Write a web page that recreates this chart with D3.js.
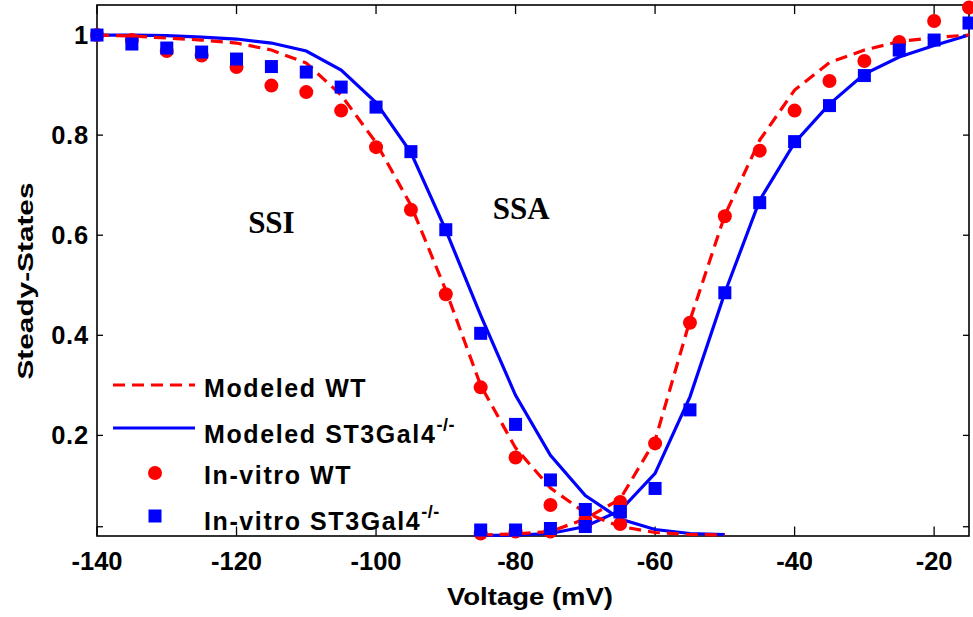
<!DOCTYPE html>
<html>
<head>
<meta charset="utf-8">
<script src="https://cdn.jsdelivr.net/npm/d3@7"></script>
<style>
  html, body { margin: 0; padding: 0; background: #fff; }
  svg { display: block; }
  text { font-family: "Liberation Sans", Arial, sans-serif; font-weight: bold; fill: #000; }
</style>
</head>
<body>
<svg id="chart" width="973" height="617"></svg>
<script>
// Holding potentials (mV)
const ssiVolt = [-140, -135, -130, -125, -120, -115, -110, -105, -100, -95, -90, -85, -80, -75, -70, -65, -60, -55, -50];
const ssaVolt = [-85, -80, -75, -70, -65, -60, -55, -50, -45, -40, -35, -30, -25, -20, -15];
const ssiDataVolt = [-140, -135, -130, -125, -120, -115, -110, -105, -100, -95, -90, -85, -80, -75, -70, -65];

// Modeled steady-state curves
const modelWtSSI = [1.0, 0.998, 0.994, 0.99, 0.984, 0.97, 0.944, 0.88, 0.785, 0.66, 0.49, 0.3, 0.175, 0.095, 0.045, 0.018, 0.006, 0.002, 0.001];
const modelKoSSI = [1.0, 1.0, 0.999, 0.996, 0.992, 0.984, 0.968, 0.93, 0.865, 0.765, 0.61, 0.44, 0.28, 0.16, 0.08, 0.033, 0.012, 0.004, 0.002];
const modelWtSSA = [0.001, 0.003, 0.008, 0.033, 0.073, 0.19, 0.43, 0.64, 0.79, 0.89, 0.945, 0.97, 0.987, 0.995, 1.0];
const modelKoSSA = [0.0, 0.001, 0.004, 0.018, 0.05, 0.124, 0.277, 0.485, 0.67, 0.785, 0.862, 0.922, 0.956, 0.979, 1.0];

// In-vitro measurements
const vitroWtSSI = [1.0, 0.99, 0.968, 0.959, 0.936, 0.899, 0.886, 0.849, 0.776, 0.651, 0.482, 0.296, 0.156, 0.061, 0.031, 0.023];
const vitroKoSSI = [1.0, 0.982, 0.974, 0.966, 0.952, 0.937, 0.926, 0.896, 0.856, 0.767, 0.611, 0.404, 0.222, 0.111, 0.052, 0.047];
const vitroWtSSA = [0.004, 0.008, 0.008, 0.022, 0.067, 0.184, 0.425, 0.638, 0.769, 0.849, 0.908, 0.948, 0.986, 1.028, 1.055];
const vitroKoSSA = [0.011, 0.011, 0.014, 0.018, 0.048, 0.094, 0.251, 0.485, 0.665, 0.787, 0.859, 0.919, 0.970, 0.990, 1.024];

// Axis ticks
const xTicks = [-140, -120, -100, -80, -60, -40, -20];
const yTicks = [0.2, 0.4, 0.6, 0.8, 1];
const yTickLabels = ["0.2", "0.4", "0.6", "0.8", "1"];
const yMinorTicks = [0.0175];

const legendLabels = ["Modeled WT", "Modeled ST3Gal4", "In-vitro WT", "In-vitro ST3Gal4"];
const RED = "#ff0000", BLUE = "#0000ff";

const svg = d3.select("#chart");
const x = d3.scaleLinear().domain([-140, -15]).range([97, 969]);
const y = d3.scaleLinear().domain([0, 1.06]).range([535.5, 5]);

const line = d3.line().x(d => x(d[0])).y(d => y(d[1]));
const zip = (a, b) => a.map((v, i) => [v, b[i]]);

// Frame
const [x0, x1] = x.range();
const [yb, yt] = y.range();
svg.append("rect").attr("x", x0).attr("y", yt).attr("width", x1 - x0).attr("height", yb - yt + 0.5)
  .attr("fill", "none").attr("stroke", "#000").attr("stroke-width", 1.6);

// Ticks (inward on all four sides)
const tickG = svg.append("g").attr("stroke", "#000").attr("stroke-width", 1.3);
xTicks.forEach(t => {
  tickG.append("line").attr("x1", x(t)).attr("x2", x(t)).attr("y1", yb).attr("y2", yb - 9);
  tickG.append("line").attr("x1", x(t)).attr("x2", x(t)).attr("y1", yt).attr("y2", yt + 9);
});
yTicks.concat(yMinorTicks).forEach(t => {
  tickG.append("line").attr("x1", x0).attr("x2", x0 + 6).attr("y1", y(t)).attr("y2", y(t));
  tickG.append("line").attr("x1", x1).attr("x2", x1 - 6).attr("y1", y(t)).attr("y2", y(t));
});

// Tick labels
svg.append("g").selectAll("text").data(xTicks).join("text")
  .attr("x", d => x(d)).attr("y", 570).attr("text-anchor", "middle")
  .attr("font-size", 25.5).text(d => String(d));
svg.append("g").selectAll("text").data(yTicks).join("text")
  .attr("x", 89).attr("y", d => y(d) + 9).attr("text-anchor", "end")
  .attr("font-size", 25.5).attr("letter-spacing", 0.8).text((d, i) => yTickLabels[i]);

// Axis titles
svg.append("text").attr("x", 530).attr("y", 605).attr("text-anchor", "middle")
  .attr("font-size", 24.5).attr("textLength", 166).attr("lengthAdjust", "spacingAndGlyphs")
  .text("Voltage (mV)");
svg.append("text").attr("transform", "translate(33,281) rotate(-90)").attr("text-anchor", "middle")
  .attr("font-size", 22.5).attr("textLength", 197).attr("lengthAdjust", "spacingAndGlyphs")
  .text("Steady-States");

// Region labels
const serif = '"Liberation Serif", "Times New Roman", serif';
svg.append("text").attr("x", x(-115)).attr("y", y(0.604)).attr("text-anchor", "middle")
  .style("font-family", serif).attr("font-size", 31).text("SSI");
svg.append("text").attr("x", x(-79.2)).attr("y", y(0.632)).attr("text-anchor", "middle")
  .style("font-family", serif).attr("font-size", 31).text("SSA");

// Model curves
const curves = svg.append("g").attr("fill", "none").attr("stroke-width", 3.2);
curves.append("path").datum(zip(ssiVolt, modelKoSSI)).attr("d", line).attr("stroke", BLUE);
curves.append("path").datum(zip(ssaVolt, modelKoSSA)).attr("d", line).attr("stroke", BLUE);
curves.append("path").datum(zip(ssiVolt, modelWtSSI)).attr("d", line).attr("stroke", RED).attr("stroke-dasharray", "12,7");
curves.append("path").datum(zip(ssaVolt, modelWtSSA)).attr("d", line).attr("stroke", RED).attr("stroke-dasharray", "12,7");

// In-vitro markers
const circ = svg.append("g").attr("fill", RED);
zip(ssiDataVolt, vitroWtSSI).concat(zip(ssaVolt, vitroWtSSA)).forEach(d => {
  circ.append("circle").attr("cx", x(d[0])).attr("cy", y(d[1])).attr("r", 7);
});
const sq = svg.append("g").attr("fill", BLUE);
const S = 13;
zip(ssiDataVolt, vitroKoSSI).concat(zip(ssaVolt, vitroKoSSA)).forEach(d => {
  sq.append("rect").attr("x", x(d[0]) - S / 2).attr("y", y(d[1]) - S / 2).attr("width", S).attr("height", S);
});

// Legend
const lg = svg.append("g");
const lx0 = 113, lx1 = 195, tx = 204;
const rows = [385, 428, 473, 516];
lg.append("line").attr("x1", lx0).attr("x2", lx1).attr("y1", rows[0]).attr("y2", rows[0])
  .attr("stroke", RED).attr("stroke-width", 3.2).attr("stroke-dasharray", "12,7");
lg.append("line").attr("x1", lx0).attr("x2", lx1).attr("y1", rows[1]).attr("y2", rows[1])
  .attr("stroke", BLUE).attr("stroke-width", 3.2);
lg.append("circle").attr("cx", 155).attr("cy", rows[2]).attr("r", 7).attr("fill", RED);
lg.append("rect").attr("x", 155 - S / 2).attr("y", rows[3] - S / 2).attr("width", S).attr("height", S).attr("fill", BLUE);

const baselines = [396.5, 442.5, 484, 530];
legendLabels.forEach((lab, i) => {
  const t = lg.append("text").attr("x", tx).attr("y", baselines[i]).attr("font-size", 25)
    .attr("letter-spacing", 1.6).text(lab);
  if (i % 2 === 1) {
    t.append("tspan").attr("font-size", 18).attr("dy", -12).attr("letter-spacing", 0.5).text("-/-");
  }
});
</script>
</body>
</html>
